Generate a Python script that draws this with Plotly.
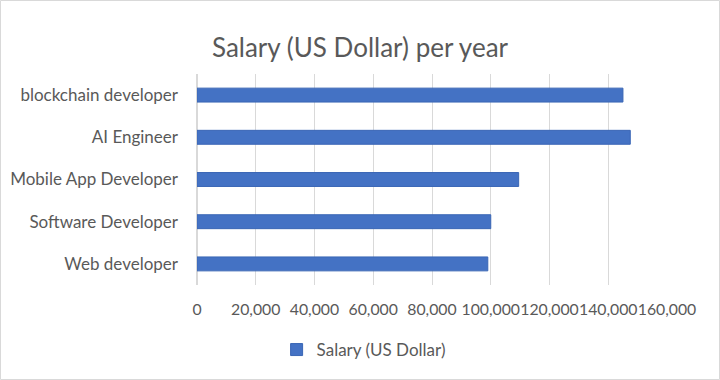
import plotly.graph_objects as go

categories = ["Web developer", "Software Developer", "Mobile App Developer", "AI Engineer", "blockchain developer"]
salaries = [99000, 100000, 109500, 147500, 145000]
series_name = "Salary (US Dollar)"
title_text = "Salary (US Dollar) per year"

W, H = 720, 380
ML, MR, MT, MB = 197, 53, 74, 95
FONT = "Lato, Open Sans, sans-serif"
TXT = "#595959"

fig = go.Figure()
fig.add_trace(go.Bar(
    y=categories, x=salaries, orientation="h", name=series_name,
    marker=dict(color="#4472C4", line=dict(color="#3A66B5", width=1)),
    showlegend=True,
))

pw = W - ML - MR
ph = H - MT - MB
x0 = -(ML - 0.5) / pw
x1 = 1 + (MR - 0.5) / pw
y0 = -(MB - 0.5) / ph
y1 = 1 + (MT - 0.5) / ph

fig.update_layout(
    width=W, height=H,
    margin=dict(l=ML, r=MR, t=MT, b=MB, autoexpand=False),
    paper_bgcolor="white", plot_bgcolor="white",
    font=dict(family=FONT, color=TXT, size=17),
    title=dict(text=title_text, x=0.5, xref="container", xanchor="center",
               y=1 - 48 / H, yref="container", yanchor="middle",
               font=dict(size=26, color=TXT, family=FONT)),
    bargap=0.67,
    xaxis=dict(range=[0, 160000], dtick=20000, tickformat=",", showgrid=True,
               gridcolor="#d9d9d9", gridwidth=1, zeroline=True, zerolinecolor="#d9d9d9",
               showline=False, ticks="", ticklabelstandoff=13, tickangle=0, automargin=False,
               tickfont=dict(size=15.8, color=TXT)),
    yaxis=dict(showgrid=False, zeroline=False, showline=False, ticks="", automargin=False,
               ticklabelstandoff=18, tickfont=dict(size=17, color=TXT)),
    legend=dict(orientation="h", x=0.505, xref="container", xanchor="center",
                y=1 - 350 / H, yref="container", yanchor="middle",
                font=dict(size=17, color=TXT), itemwidth=30),
    shapes=[dict(type="rect", xref="paper", yref="paper", x0=x0, x1=x1, y0=y0, y1=y1,
                 line=dict(color="#d9d9d9", width=1), fillcolor="rgba(0,0,0,0)", layer="below")],
)

fig.write_html("out.html", config={"displayModeBar": False},
               post_script="document.body.style.margin='0';document.body.style.padding='0';")
